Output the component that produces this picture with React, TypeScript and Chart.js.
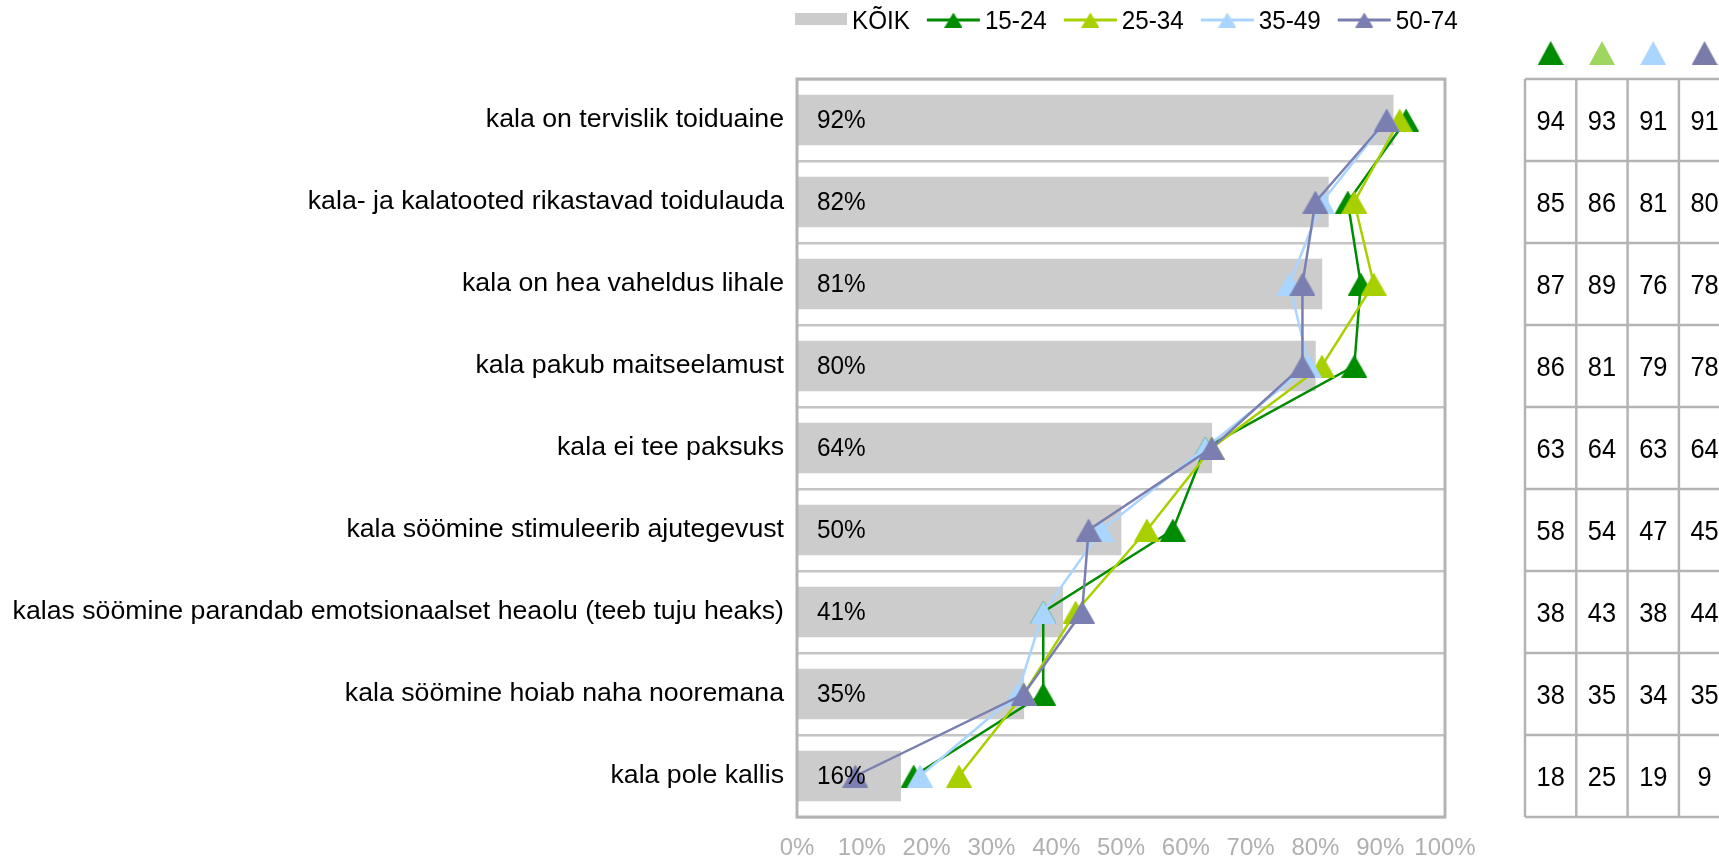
import React, { useEffect, useRef } from 'react';
import { Chart, registerables } from 'chart.js';

Chart.register(...registerables);

const categories = [
  'kala on tervislik toiduaine',
  'kala- ja kalatooted rikastavad toidulauda',
  'kala on hea vaheldus lihale',
  'kala pakub maitseelamust',
  'kala ei tee paksuks',
  'kala söömine stimuleerib ajutegevust',
  'kalas söömine parandab emotsionaalset heaolu (teeb tuju heaks)',
  'kala söömine hoiab naha nooremana',
  'kala pole kallis',
];
const koik = [92, 82, 81, 80, 64, 50, 41, 35, 16];
const age1524 = [94, 85, 87, 86, 63, 58, 38, 38, 18];
const age2534 = [93, 86, 89, 81, 64, 54, 43, 35, 25];
const age3549 = [91, 81, 76, 79, 63, 47, 38, 34, 19];
const age5074 = [91, 80, 78, 78, 64, 45, 44, 35, 9];
const seriesNames = ['KÕIK', '15-24', '25-34', '35-49', '50-74'];
const xTickMin = 0;
const xTickMax = 100;
const xTickStep = 10;

const FONT = '"Liberation Sans", Arial, Helvetica, sans-serif';
const barColor = '#cccccc';
const lineColors = ['#008c00', '#a8d000', '#a9d5ff', '#7b7eb0'];
const tableMarkerColors = ['#008c00', '#9fd660', '#a9d5ff', '#7b7baa'];
const frameColor = '#b4b4b4';

function triangle(color: string, w: number, h: number): HTMLCanvasElement {
  const c = document.createElement('canvas');
  c.width = w;
  c.height = h;
  const ctx = c.getContext('2d')!;
  ctx.fillStyle = color;
  ctx.beginPath();
  ctx.moveTo(w / 2, 0);
  ctx.lineTo(w, h);
  ctx.lineTo(0, h);
  ctx.closePath();
  ctx.fill();
  return c;
}

function condensedText(ctx: CanvasRenderingContext2D, text: string, x: number, y: number, sx: number): number {
  ctx.save();
  ctx.translate(x, y);
  ctx.scale(sx, 1);
  ctx.fillText(text, 0, 0);
  const w = ctx.measureText(text).width * sx;
  ctx.restore();
  return w;
}

export default function App() {
  const ref = useRef<HTMLCanvasElement | null>(null);

  useEffect(() => {
    document.body.style.margin = '0';
    document.body.style.overflow = 'hidden';
    const canvas = ref.current;
    if (!canvas) return;

    const seriesData = [age1524, age2534, age3549, age5074];
    const pointImgs = lineColors.map((c) => triangle(c, 26, 23));
    const legendImgs = lineColors.map((c) => triangle(c, 18, 15));
    const tableImgs = tableMarkerColors.map((c) => triangle(c, 26, 24));

    const overlay = {
      id: 'overlay',
      afterDatasetsDraw(chart: any) {
        const { ctx, chartArea: a } = chart;
        const meta = chart.getDatasetMeta(0);
        ctx.save();
        ctx.font = `25.6px ${FONT}`;
        ctx.fillStyle = '#000';
        ctx.textAlign = 'left';
        ctx.textBaseline = 'middle';
        meta.data.forEach((el: any, i: number) => {
          condensedText(ctx, `${koik[i]}%`, a.left + 20, el.y + 1, 0.95);
        });
        ctx.strokeStyle = frameColor;
        ctx.lineWidth = 3;
        ctx.strokeRect(a.left, a.top, a.right - a.left, a.bottom - a.top);
        ctx.restore();
      },
      afterDraw(chart: any) {
        const { ctx, chartArea: a, scales } = chart;
        const yScale = scales.y;
        ctx.save();
        // legend
        ctx.font = `25.5px ${FONT}`;
        ctx.textBaseline = 'middle';
        ctx.textAlign = 'left';
        const sx = 0.95;
        let x = 795;
        ctx.fillStyle = barColor;
        ctx.fillRect(x, 13, 52, 12);
        x += 57;
        ctx.fillStyle = '#000';
        x += condensedText(ctx, seriesNames[0], x, 22, sx) + 17;
        for (let s = 0; s < 4; s++) {
          ctx.strokeStyle = lineColors[s];
          ctx.lineWidth = 3;
          ctx.beginPath();
          ctx.moveTo(x, 20);
          ctx.lineTo(x + 53, 20);
          ctx.stroke();
          const img = legendImgs[s];
          ctx.drawImage(img, x + 26.5 - img.width / 2, 20 - img.height / 2);
          x += 58;
          ctx.fillStyle = '#000';
          x += condensedText(ctx, seriesNames[s + 1], x, 22, sx) + 17;
        }

        // table
        const x0 = 1525;
        const cw = 51.3;
        const n = categories.length;
        const band = (a.bottom - a.top) / n;
        ctx.strokeStyle = frameColor;
        ctx.lineWidth = 2.5;
        for (let k = 0; k <= 4; k++) {
          ctx.beginPath();
          ctx.moveTo(x0 + k * cw, a.top);
          ctx.lineTo(x0 + k * cw, a.bottom);
          ctx.stroke();
        }
        for (let r = 0; r <= n; r++) {
          const yy = a.top + r * band;
          ctx.beginPath();
          ctx.moveTo(x0, yy);
          ctx.lineTo(x0 + 4 * cw, yy);
          ctx.stroke();
        }
        ctx.font = `27px ${FONT}`;
        ctx.textAlign = 'center';
        ctx.fillStyle = '#000';
        for (let r = 0; r < n; r++) {
          const cy = yScale.getPixelForValue(r);
          for (let s = 0; s < 4; s++) {
            condensedText(ctx, String(seriesData[s][r]), x0 + s * cw + cw / 2, cy + 3, 0.94);
          }
        }
        for (let s = 0; s < 4; s++) {
          const img = tableImgs[s];
          ctx.drawImage(img, x0 + s * cw + cw / 2 - img.width / 2, 53 - img.height / 2);
        }
        ctx.restore();
      },
    };

    const lineDs = seriesData.map((d, s) => ({
      type: 'line' as const,
      label: seriesNames[s + 1],
      data: d,
      borderColor: lineColors[s],
      backgroundColor: lineColors[s],
      borderWidth: 2.5,
      pointStyle: pointImgs[s],
      pointRadius: 13,
      tension: 0,
      fill: false,
      order: 4 - s,
    }));

    const chart = new Chart(canvas, {
      type: 'bar',
      data: {
        labels: categories,
        datasets: [
          {
            type: 'bar' as const,
            label: seriesNames[0],
            data: koik,
            backgroundColor: barColor,
            borderWidth: 0,
            barThickness: 50,
            order: 10,
          } as any,
          ...lineDs,
        ],
      },
      options: {
        indexAxis: 'y',
        responsive: false,
        animation: false,
        devicePixelRatio: 1,
        layout: { padding: { left: 0, top: 79, right: 274, bottom: 0 } },
        plugins: {
          legend: { display: false },
          tooltip: { enabled: false },
        },
        scales: {
          x: {
            type: 'linear',
            min: xTickMin,
            max: xTickMax,
            grid: { display: false, drawTicks: false },
            border: { display: false },
            ticks: {
              stepSize: xTickStep,
              autoSkip: false,
              maxRotation: 0,
              padding: 17,
              color: '#b0b0b0',
              font: { family: FONT, size: 24 },
              callback: (v: any) => `${v}%`,
            },
            afterFit: (s: any) => {
              s.height = 42;
            },
          },
          y: {
            type: 'category',
            grid: { display: true, drawTicks: false, color: '#c4c4c4', lineWidth: 2.5, offset: true },
            border: { display: false },
            ticks: {
              padding: 13,
              color: '#000',
              font: { family: FONT, size: 26.7 },
              autoSkip: false,
            },
            afterFit: (s: any) => {
              s.width = 797;
            },
          },
        },
      } as any,
      plugins: [overlay],
    });

    return () => {
      chart.destroy();
    };
  }, []);

  return (
    <div style={{ width: 1719, height: 859, position: 'relative' }}>
      <canvas ref={ref} width={1719} height={859} style={{ display: 'block', width: 1719, height: 859 }} />
    </div>
  );
}
